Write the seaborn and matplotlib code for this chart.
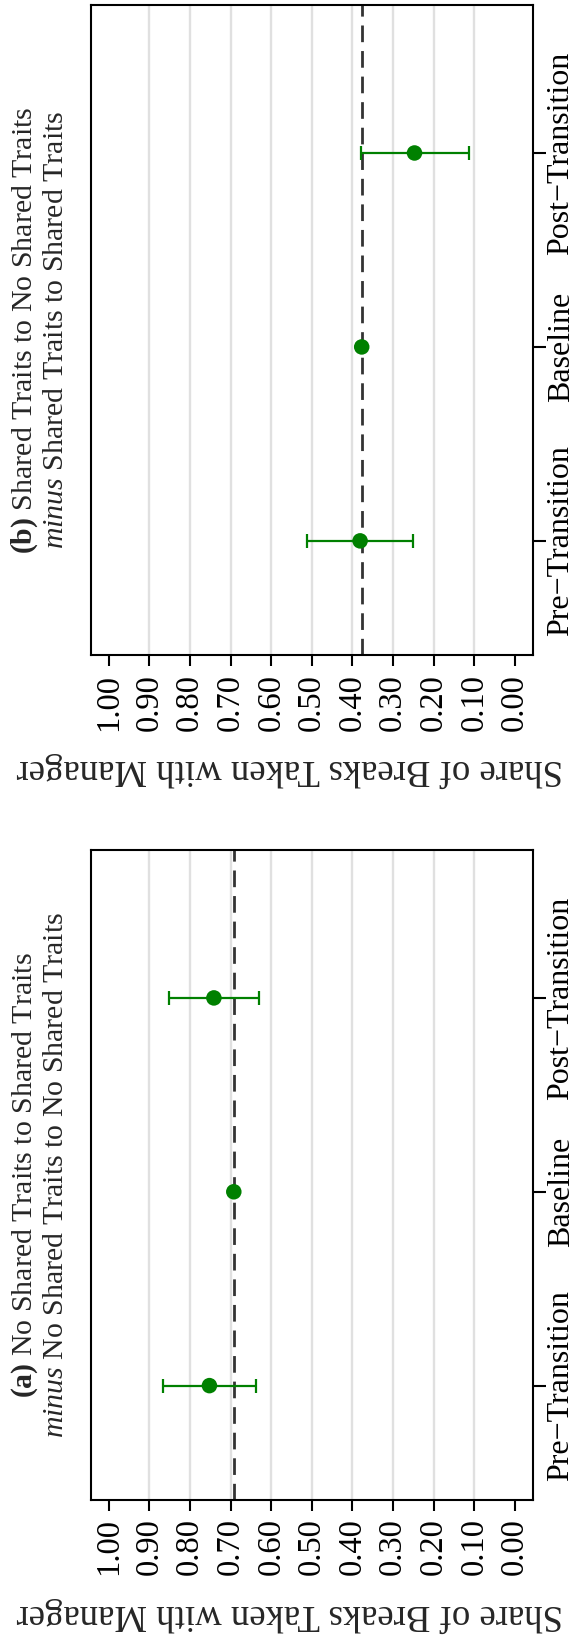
import numpy as np
import pandas as pd
import matplotlib
matplotlib.use("Agg")
import matplotlib.pyplot as plt
import seaborn as sns

# Categories, bottom to top along the category axis
CATEGORIES = ["Pre\u2212Transition", "Baseline", "Post\u2212Transition"]

# Panel (a): No Shared Traits -> Shared Traits
A_EST = [0.752, 0.692, 0.741]
A_LO = [0.638, np.nan, 0.630]
A_HI = [0.867, np.nan, 0.851]
A_REF = 0.692

# Panel (b): Shared Traits -> No Shared Traits
B_EST = [0.381, 0.377, 0.247]
B_LO = [0.250, np.nan, 0.114]
B_HI = [0.512, np.nan, 0.379]
B_REF = 0.377

TICK_VALUES = [1.0, 0.9, 0.8, 0.7, 0.6, 0.5, 0.4, 0.3, 0.2, 0.1, 0.0]
TICK_LABELS = ["1.00", "0.90", "0.80", "0.70", "0.60", "0.50",
               "0.40", "0.30", "0.20", "0.10", "0.00"]

TITLE_A = ("$\\mathbf{(a)}$ No Shared Traits to Shared Traits\n"
           "$\\mathit{minus}$ No Shared Traits to No Shared Traits")
TITLE_B = ("$\\mathbf{(b)}$ Shared Traits to No Shared Traits\n"
           "$\\mathit{minus}$ Shared Traits to Shared Traits")
VALUE_LABEL = "Share of Breaks Taken with Manager"

sns.set_style("ticks")
plt.rcParams["font.family"] = ["Liberation Serif", "DejaVu Serif"]
plt.rcParams["mathtext.fontset"] = "custom"
plt.rcParams["mathtext.rm"] = "Liberation Serif"
plt.rcParams["mathtext.it"] = "Liberation Serif:italic"
plt.rcParams["mathtext.bf"] = "Liberation Serif:bold"

GREEN = "#008000"


def draw_panel(ax, est, lo, hi, ref, title):
    pos = np.arange(1, len(CATEGORIES) + 1)
    df = pd.DataFrame({"share": est, "pos": pos, "lo": lo, "hi": hi})

    # light reference grid at the interior ticks
    for v in TICK_VALUES[1:-1]:
        ax.axvline(v, color="#e0e0e0", lw=1.7, zorder=0)
    # dashed line at the baseline estimate
    ax.axvline(ref, color="#333333", lw=2.0, ls=(0, (6, 3.2)), zorder=1)

    ci = df.dropna()
    ax.errorbar(ci["share"], ci["pos"],
                xerr=[ci["share"] - ci["lo"], ci["hi"] - ci["share"]],
                fmt="none", ecolor=GREEN, elinewidth=1.6,
                capsize=5, capthick=1.6, zorder=2)
    sns.scatterplot(data=df, x="share", y="pos", color=GREEN, s=125,
                    edgecolor="none", linewidth=0, zorder=3,
                    legend=False, ax=ax)

    ax.set_xlim(1.0436, -0.044)
    ax.set_ylim(0.41, 3.763)

    ax.set_xticks(TICK_VALUES, TICK_LABELS)
    ax.tick_params(axis="x", direction="out", length=8.2, width=1.5,
                   pad=5, labelsize=23.5, labelrotation=90,
                   bottom=True, top=False, colors="black")
    ax.yaxis.tick_right()
    ax.set_yticks(pos, CATEGORIES)
    ax.tick_params(axis="y", direction="out", length=9.2, width=1.5,
                   pad=0.8, labelsize=23, labelrotation=90,
                   right=True, left=False, colors="black")
    for lab in ax.get_yticklabels():
        lab.set_verticalalignment("center")

    for sp in ax.spines.values():
        sp.set_visible(True)
        sp.set_color("black")
        sp.set_linewidth(1.5)

    ax.set_ylabel("")
    ax.set_xlabel(VALUE_LABEL, fontsize=26.5, rotation=180)
    ax.xaxis.set_label_coords(0.4505, -0.176)
    ax.xaxis.label.set_verticalalignment("center")

    ax.text(-0.117, 0.5, title, transform=ax.transAxes, rotation=90,
            ha="center", va="center", multialignment="center",
            fontsize=21.5, linespacing=1.15)


fig = plt.figure(figsize=(5.76, 16.38), dpi=100)
ax_b = fig.add_axes([0.158, 0.59994, 0.7668, 0.39701])
ax_a = fig.add_axes([0.158, 0.08425, 0.7668, 0.39682])

draw_panel(ax_b, B_EST, B_LO, B_HI, B_REF, TITLE_B)
draw_panel(ax_a, A_EST, A_LO, A_HI, A_REF, TITLE_A)

fig.savefig("out.png", dpi=100)
